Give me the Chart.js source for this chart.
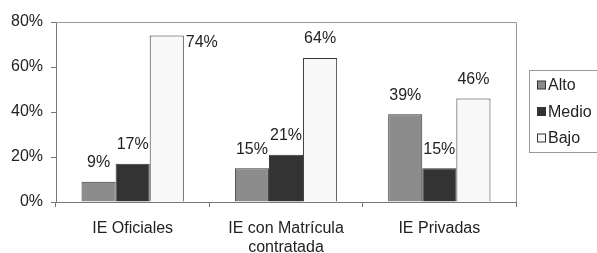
<!DOCTYPE html>
<html><head><meta charset="utf-8">
<script src="https://cdn.jsdelivr.net/npm/chart.js@4"></script>
<style>html,body{margin:0;padding:0;background:#fff}#w{width:597px;height:253px;position:relative}</style>
</head><body><div id="w"><canvas id="c"></canvas></div>
<script>
const categories = ["IE Oficiales", ["IE con Matrícula", "contratada"], "IE Privadas"];
const seriesNames = ["Alto", "Medio", "Bajo"];
const alto = [9, 15, 39];
const medio = [17, 21, 15];
const bajo = [74, 64, 46];
const yTicks = [0, 20, 40, 60, 80];
const fills = ["#8c8c8c", "#333333", "#f8f8f8"];
const FONT = "'Liberation Sans', Arial, sans-serif";

const frame = {
  id: 'frame',
  afterDraw(chart) {
    const {ctx, chartArea: a} = chart;
    ctx.save();
    ctx.strokeStyle = '#999'; ctx.lineWidth = 1;
    ctx.beginPath();
    ctx.moveTo(a.left, a.top + 0.5); ctx.lineTo(Math.round(a.right) + 0.5, a.top + 0.5);
    ctx.lineTo(Math.round(a.right) + 0.5, a.bottom);
    ctx.stroke();
    // data labels
    ctx.fillStyle = '#222'; ctx.font = '16px ' + FONT; ctx.textBaseline = 'middle';
    chart.data.datasets.forEach((ds, di) => {
      chart.getDatasetMeta(di).data.forEach((bar, i) => {
        const txt = ds.data[i] + '%';
        if (bar.y - 28 < a.top + 6) {
          ctx.textAlign = 'left';
          ctx.fillText(txt, bar.x + bar.width / 2 + 2, bar.y + 7);
        } else {
          ctx.textAlign = 'center';
          ctx.fillText(txt, bar.x, bar.y - 19);
        }
      });
    });
    // legend
    const lx = 529, ly = 70;
    ctx.strokeStyle = '#999';
    ctx.strokeRect(lx + 0.5, ly + 0.5, 80, 82);
    ctx.textAlign = 'left'; ctx.textBaseline = 'middle'; ctx.font = '16px ' + FONT;
    chart.data.datasets.forEach((ds, di) => {
      const cy = ly + 15 + di * 26.5;
      ctx.fillStyle = ds.backgroundColor;
      ctx.fillRect(537.5, cy - 4, 8, 8);
      ctx.strokeStyle = '#333';
      ctx.strokeRect(537.5, cy - 4, 8, 8);
      ctx.fillStyle = '#222';
      ctx.fillText(ds.label, 548, cy + 1);
    });
    ctx.restore();
  }
};

new Chart(document.getElementById('c'), {
  type: 'bar',
  data: {
    labels: categories,
    datasets: [alto, medio, bajo].map((d, k) => ({
      label: seriesNames[k], data: d, backgroundColor: fills[k],
      borderColor: '#333', borderWidth: 1, borderSkipped: 'bottom',
      categoryPercentage: 0.667, barPercentage: 1
    }))
  },
  options: {
    responsive: true, maintainAspectRatio: false, animation: false,
    layout: { padding: { top: 22, right: 81, left: 0, bottom: 0 } },
    plugins: { legend: { display: false }, tooltip: { enabled: false } },
    scales: {
      y: {
        min: 0, max: 80,
        afterBuildTicks(s) { s.ticks = yTicks.map(v => ({ value: v })); },
        afterFit(s) { s.width = 56; },
        ticks: { callback: v => v + '%', color: '#222', font: { family: FONT, size: 16 }, padding: 8 },
        grid: { drawOnChartArea: false, tickLength: 5, color: '#777' },
        border: { color: '#777' }
      },
      x: {
        offset: true,
        afterFit(s) { s.height = 51; },
        ticks: { color: '#222', font: { family: FONT, size: 16, lineHeight: 1.2 }, padding: 12, maxRotation: 0 },
        grid: { offset: true, drawOnChartArea: false, tickLength: 5, color: '#777' },
        border: { color: '#777' }
      }
    }
  },
  plugins: [frame]
});
</script></body></html>
